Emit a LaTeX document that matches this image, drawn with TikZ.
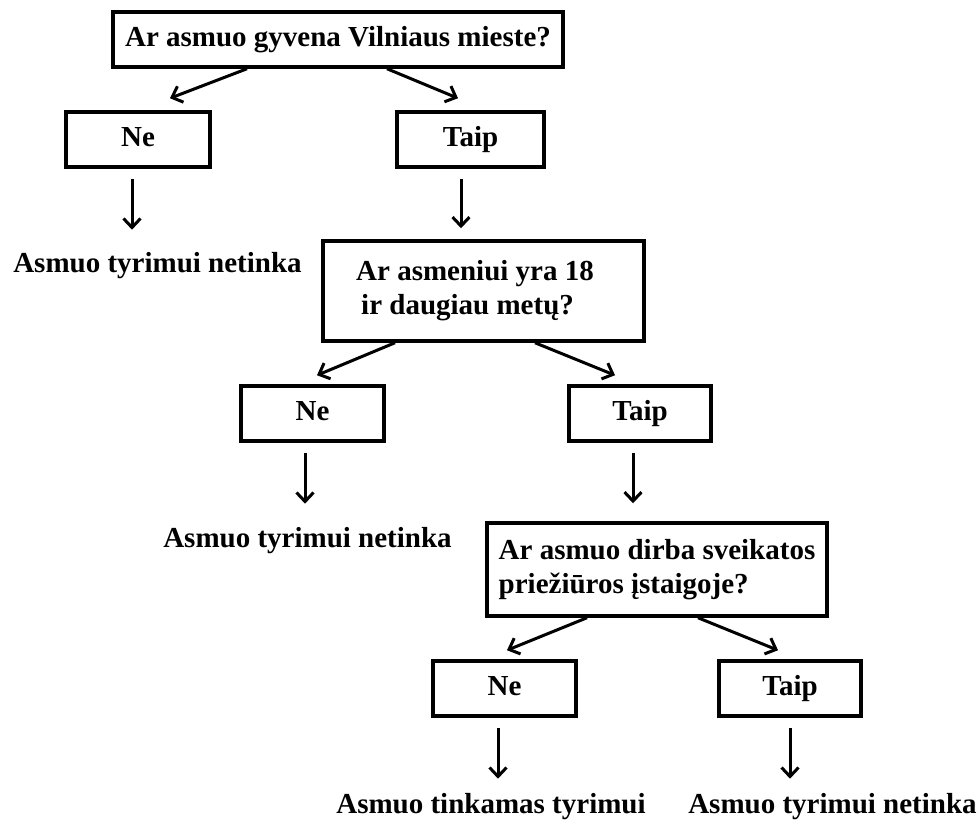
\documentclass[tikz,border=0pt]{standalone}
\usepackage{fontspec}
\setmainfont{Liberation Serif}
\usetikzlibrary{arrows.meta}

\begin{document}
\begin{tikzpicture}[
            x=1pt, y=-1pt,
            every node/.style={font=\fontsize{29pt}{34pt}\selectfont\bfseries},
            qbox/.style={draw, line width=3.5pt, align=left},
            ansbox/.style={draw, line width=3.5pt, minimum height=55pt, text height=19pt, text depth=6pt},
            result/.style={inner sep=0pt, anchor=base},
            arr/.style={line width=3pt, -{Straight Barb[length=9pt,width=17pt]}},
            ]
            \useasboundingbox (0,0) rectangle (979,819);

            \node[qbox, minimum width=450pt, minimum height=55pt] (q1) at (338,39.5) {Ar asmuo gyvena Vilniaus mieste?};
            \node[ansbox, minimum width=144pt] (ne1) at (138,139.5) {Ne};
            \node[ansbox, minimum width=147pt] (taip1) at (470.5,139.5) {Taip};
            \node[result] (out1) at (157.5,272) {Asmuo tyrimui netinka};

            \node[qbox, minimum width=321pt, minimum height=100pt] (q2) at (483.5,291) {Ar asmeniui yra 18\hspace*{17pt}\\\hspace*{5pt}ir daugiau metų?};
            \node[ansbox, minimum width=143pt] (ne2) at (312.5,413.5) {Ne};
            \node[ansbox, minimum width=142pt] (taip2) at (640,413.5) {Taip};
            \node[result] (out2) at (307.5,547) {Asmuo tyrimui netinka};

            \node[qbox, minimum width=340pt, minimum height=93pt, inner xsep=10pt] (q3) at (657,569.5) {Ar asmuo dirba sveikatos\\priežiūros įstaigoje?};
            \node[ansbox, minimum width=143pt] (ne3) at (504.5,688.5) {Ne};
            \node[ansbox, minimum width=142pt] (taip3) at (790,688.5) {Taip};
            \node[result] (out3) at (491,813) {Asmuo tinkamas tyrimui};
            \node[result] (out4) at (832.5,813) {Asmuo tyrimui netinka};

            \draw[arr] ([xshift=-91pt]q1.south) -- ([xshift=32pt,yshift=12pt]ne1.north);
            \draw[arr] ([xshift=49pt]q1.south) -- ([xshift=-12.5pt,yshift=12pt]taip1.north);
            \draw[arr, shorten <=10pt, shorten >=22pt] ([xshift=-6pt]ne1.south) -- ([xshift=-6pt]ne1.south |- out1.north);
            \draw[arr, shorten <=10pt, shorten >=11pt] ([xshift=-9.5pt]taip1.south) -- ([xshift=-9.5pt]taip1.south |- q2.north);

            \draw[arr] ([xshift=-88.5pt]q2.south) -- ([xshift=4.5pt,yshift=9pt]ne2.north);
            \draw[arr] ([xshift=51.5pt]q2.south) -- ([xshift=-25pt,yshift=9pt]taip2.north);
            \draw[arr, shorten <=10pt, shorten >=23pt] ([xshift=-7.5pt]ne2.south) -- ([xshift=-7.5pt]ne2.south |- out2.north);
            \draw[arr, shorten <=10pt, shorten >=18pt] ([xshift=-7pt]taip2.south) -- ([xshift=-7pt]taip2.south |- q3.north);

            \draw[arr] ([xshift=-70pt]q3.south) -- ([xshift=2.5pt,yshift=9pt]ne3.north);
            \draw[arr] ([xshift=41pt]q3.south) -- ([xshift=-12pt,yshift=9pt]taip3.north);
            \draw[arr, shorten <=10pt, shorten >=14pt] ([xshift=-6.5pt]ne3.south) -- ([xshift=-6.5pt]ne3.south |- out3.north);
            \draw[arr, shorten <=10pt, shorten >=14pt] (taip3.south) -- (taip3.south |- out4.north);
        \end{tikzpicture}
\end{document}
